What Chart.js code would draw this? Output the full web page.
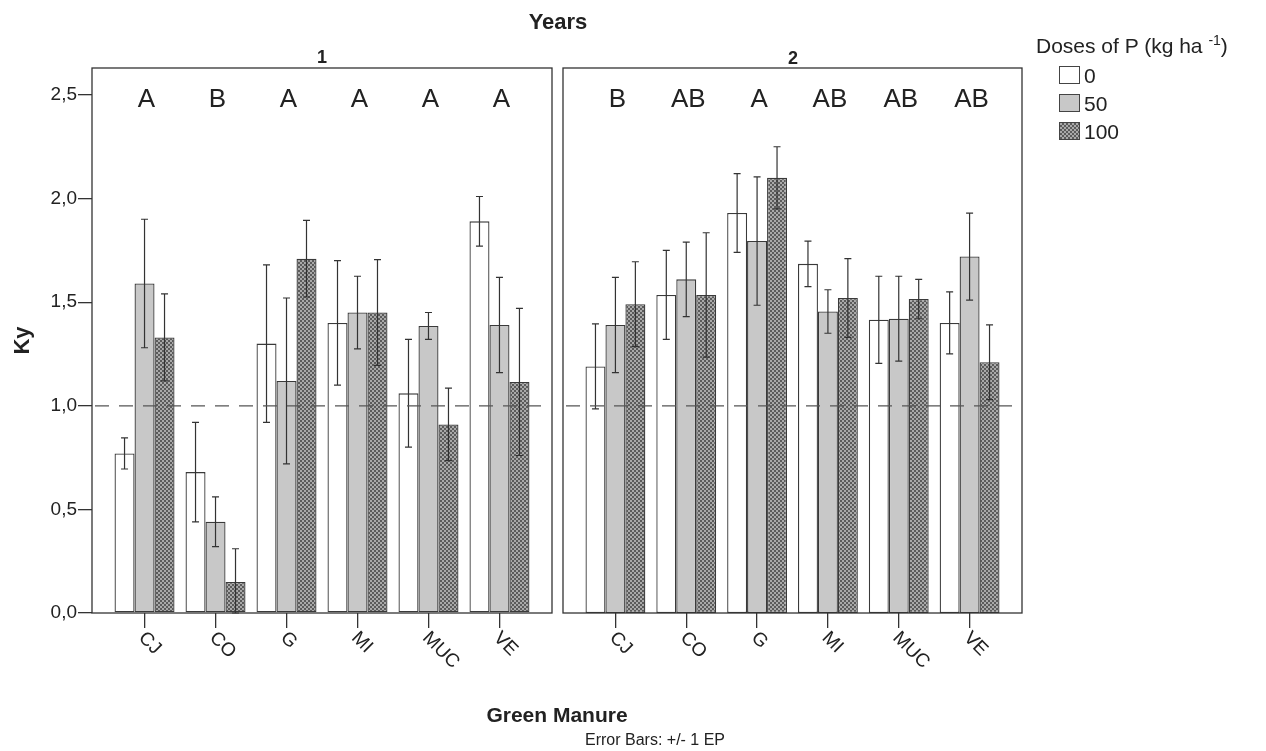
<!DOCTYPE html>
<html>
<head>
<meta charset="utf-8">
<script src="https://cdn.jsdelivr.net/npm/chart.js@4/dist/chart.umd.min.js"></script>
<style>
  body { margin: 0; background: #fff; width: 1266px; height: 751px; position: relative; overflow: hidden;
         font-family: "Liberation Sans", Arial, sans-serif; color: #222; }
  canvas { position: absolute; top: 0; }
  .t { position: absolute; white-space: nowrap; line-height: 24px; }
  .c { text-align: center; }
  .sw { position: absolute; left: 1059px; width: 21px; height: 18px; border: 1px solid #444; box-sizing: border-box; }
</style>
</head>
<body>
<canvas id="year1" width="560" height="751" style="left:0"></canvas>
<canvas id="year2" width="706" height="751" style="left:560px"></canvas>

<div class="t c" style="left:458px;width:200px;top:10px;font-weight:bold;font-size:22px">Years</div>
<div class="t c" style="left:282px;width:80px;top:45px;font-weight:bold;font-size:18px">1</div>
<div class="t c" style="left:753px;width:80px;top:46px;font-weight:bold;font-size:18px">2</div>
<div class="t c" style="left:407px;width:300px;top:703px;font-weight:bold;font-size:21px">Green Manure</div>
<div class="t" style="left:585px;top:728px;font-size:16px">Error Bars: +/- 1 EP</div>

<div class="t" style="left:1036px;top:28px;font-size:21px">Doses of P (kg ha <sup style="font-size:14px">-1</sup>)</div>
<div class="sw" style="top:66px;background:#fff"></div>
<div class="t" style="left:1084px;top:64px;font-size:21px">0</div>
<div class="sw" style="top:94px;background:#c8c8c8"></div>
<div class="t" style="left:1084px;top:92px;font-size:21px">50</div>
<div class="sw" style="top:122px;background:repeating-conic-gradient(#5b5b5b 0 25%, #a9a9a9 0 50%) 0 0/4px 4px"></div>
<div class="t" style="left:1084px;top:120px;font-size:21px">100</div>

<script>
const categories = ['CJ', 'CO', 'G', 'MI', 'MUC', 'VE'];
const doses = ['0', '50', '100'];

// year 1
const y1Dose0   = [0.77, 0.68, 1.30, 1.40, 1.06, 1.89];
const y1Dose50  = [1.59, 0.44, 1.12, 1.45, 1.385, 1.39];
const y1Dose100 = [1.33, 0.15, 1.71, 1.45, 0.91, 1.115];
const y1Err0    = [0.075, 0.24, 0.38, 0.30, 0.26, 0.12];
const y1Err50   = [0.31, 0.12, 0.40, 0.175, 0.065, 0.23];
const y1Err100  = [0.21, 0.16, 0.185, 0.255, 0.175, 0.355];
const y1Letters = ['A', 'B', 'A', 'A', 'A', 'A'];

// year 2
const y2Dose0   = [1.19, 1.535, 1.93, 1.685, 1.415, 1.40];
const y2Dose50  = [1.39, 1.61, 1.795, 1.455, 1.42, 1.72];
const y2Dose100 = [1.49, 1.535, 2.10, 1.52, 1.515, 1.21];
const y2Err0    = [0.205, 0.215, 0.19, 0.11, 0.21, 0.15];
const y2Err50   = [0.23, 0.18, 0.31, 0.105, 0.205, 0.21];
const y2Err100  = [0.205, 0.30, 0.15, 0.19, 0.095, 0.18];
const y2Letters = ['B', 'AB', 'A', 'AB', 'AB', 'AB'];

const yTicks = [0, 0.5, 1, 1.5, 2, 2.5];
const refLine = 1.0;
const letterLevel = 2.475;
const axisMax = 2.63;

Chart.defaults.font.family = '"Liberation Sans", Arial, sans-serif';

function dotPattern() {
  const c = document.createElement('canvas');
  c.width = 4; c.height = 4;
  const g = c.getContext('2d');
  g.fillStyle = '#a9a9a9'; g.fillRect(0, 0, 4, 4);
  g.fillStyle = '#5b5b5b'; g.fillRect(0, 0, 2, 2); g.fillRect(2, 2, 2, 2);
  return g.createPattern(c, 'repeat');
}
const fills = ['#ffffff', '#c8c8c8', dotPattern()];

function panelPlugin(series, errs, letters) {
  return {
    id: 'panel',
    afterDatasetsDraw(chart) {
      const { ctx, chartArea: a, scales: { x, y } } = chart;
      ctx.save();
      // error bars
      ctx.strokeStyle = '#333';
      ctx.lineWidth = 1.2;
      series.forEach((vals, d) => {
        chart.getDatasetMeta(d).data.forEach((bar, i) => {
          const t = y.getPixelForValue(vals[i] + errs[d][i]);
          const b = Math.min(y.getPixelForValue(vals[i] - errs[d][i]), a.bottom);
          ctx.beginPath();
          ctx.moveTo(bar.x, t); ctx.lineTo(bar.x, b);
          ctx.moveTo(bar.x - 3.5, t); ctx.lineTo(bar.x + 3.5, t);
          ctx.moveTo(bar.x - 3.5, b); ctx.lineTo(bar.x + 3.5, b);
          ctx.stroke();
        });
      });
      // reference line
      const ry = y.getPixelForValue(refLine);
      ctx.strokeStyle = '#555';
      ctx.lineWidth = 1.3;
      ctx.setLineDash([14, 10]);
      ctx.beginPath();
      ctx.moveTo(a.left + 3, ry); ctx.lineTo(a.right - 7, ry);
      ctx.stroke();
      ctx.setLineDash([]);
      // panel frame
      ctx.strokeStyle = '#333';
      ctx.lineWidth = 1.3;
      ctx.strokeRect(a.left, a.top, a.width, a.height);
      // letters
      ctx.fillStyle = '#222';
      ctx.font = '26px "Liberation Sans", Arial, sans-serif';
      ctx.textAlign = 'center';
      ctx.textBaseline = 'middle';
      letters.forEach((l, i) => ctx.fillText(l, x.getPixelForValue(i) + 2, y.getPixelForValue(letterLevel)));
      // rotated category labels
      ctx.font = '19px "Liberation Sans", Arial, sans-serif';
      ctx.textAlign = 'left';
      categories.forEach((c, i) => {
        ctx.save();
        ctx.translate(x.getPixelForValue(i) - 3, a.bottom + 22);
        ctx.rotate(45 * Math.PI / 180);
        ctx.fillText(c, 0, 0);
        ctx.restore();
      });
      ctx.restore();
    }
  };
}

function makeChart(id, series, errs, letters, first) {
  return new Chart(document.getElementById(id), {
    type: 'bar',
    data: {
      datasets: series.map((vals, d) => ({
        label: doses[d],
        data: vals.map((v, i) => ({ x: i, y: v })),
        backgroundColor: fills[d],
        borderColor: '#3a3a3a',
        borderWidth: 1.3,
        borderSkipped: false,
        categoryPercentage: 0.845,
        barPercentage: 1
      }))
    },
    options: {
      responsive: false,
      animation: false,
      layout: { padding: first ? { left: 0, top: 68, right: 8, bottom: 123 }
                               : { left: 3, top: 68, right: 244, bottom: 123 } },
      plugins: { legend: { display: false }, tooltip: { enabled: false } },
      scales: {
        x: {
          type: 'linear', min: -0.74, max: 5.74, offset: false,
          afterBuildTicks: s => { s.ticks = categories.map((c, i) => ({ value: i })); },
          afterFit: s => { s.height = 15; },
          ticks: { display: false },
          grid: { drawOnChartArea: false, tickLength: 15, color: '#333', lineWidth: 1.3, offset: false },
          border: { display: false }
        },
        y: {
          display: first, min: 0, max: axisMax,
          afterBuildTicks: s => { s.ticks = yTicks.map(v => ({ value: v })); },
          afterFit: s => { s.width = first ? 92 : 0; },
          ticks: { callback: v => v.toFixed(1).replace('.', ','), font: { size: 19 }, color: '#222', padding: 1 },
          grid: { drawOnChartArea: false, tickLength: 14, color: '#333', lineWidth: 1.3 },
          border: { display: false },
          title: { display: true, text: 'Ky', font: { size: 22, weight: 'bold' }, color: '#222', padding: { top: 10 } }
        }
      }
    },
    plugins: [panelPlugin(series, errs, letters)]
  });
}

makeChart('year1', [y1Dose0, y1Dose50, y1Dose100], [y1Err0, y1Err50, y1Err100], y1Letters, true);
makeChart('year2', [y2Dose0, y2Dose50, y2Dose100], [y2Err0, y2Err50, y2Err100], y2Letters, false);
</script>
</body>
</html>
